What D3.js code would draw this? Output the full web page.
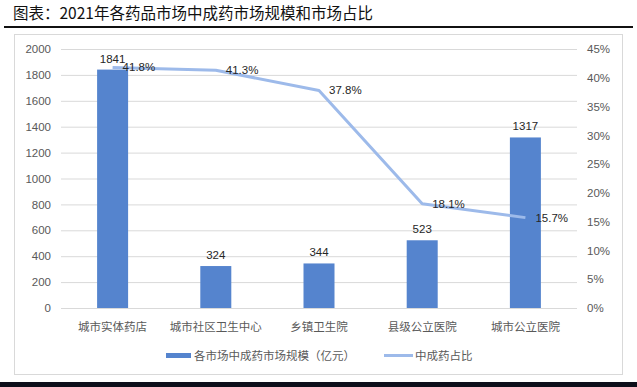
<!DOCTYPE html>
<html>
<head>
<meta charset="utf-8">
<script src="https://cdn.jsdelivr.net/npm/d3@7"></script>
<style>
  body { margin: 0; background: #fff; }
  svg { display: block; font-family: "Liberation Sans", Arial, "Noto Sans CJK SC", sans-serif; }
</style>
</head>
<body>
<svg id="chart" width="637" height="387"></svg>
<script>
const categories = ["城市实体药店", "城市社区卫生中心", "乡镇卫生院", "县级公立医院", "城市公立医院"];
const marketSize = [1841, 324, 344, 523, 1317];
const sharePct = [41.8, 41.3, 37.8, 18.1, 15.7];
const leftTicks = [0, 200, 400, 600, 800, 1000, 1200, 1400, 1600, 1800, 2000];
const rightTicks = [0, 5, 10, 15, 20, 25, 30, 35, 40, 45];

const svg = d3.select("#chart");
const margin = { top: 49, right: 60, bottom: 79, left: 61 };
const W = 637, H = 387;
const x0 = margin.left, x1 = W - margin.right, yTop = margin.top, yBot = H - margin.bottom;

const barColor = "#5584ce", lineColor = "#9dbaea", textColor = "#595959";

// title
svg.append("text")
  .attr("x", 13).attr("y", 19)
  .attr("font-family", "'Noto Sans CJK SC', sans-serif")
  .attr("font-size", 15.5).attr("font-weight", 400)
  .attr("fill", "#111")
  .text("图表：2021年各药品市场中成药市场规模和市场占比");
svg.append("line")
  .attr("x1", 4).attr("x2", 633).attr("y1", 27).attr("y2", 27)
  .attr("stroke", "#111").attr("stroke-width", 2);

// chart frame
svg.append("rect")
  .attr("x", 14.5).attr("y", 34.5).attr("width", 608).attr("height", 340)
  .attr("fill", "none").attr("stroke", "#d9d9d9");
svg.append("rect")
  .attr("x", 0).attr("y", 382).attr("width", W).attr("height", 5)
  .attr("fill", "#0d0f1a");

const x = d3.scaleBand().domain(categories).range([x0, x1]).paddingInner(0).paddingOuter(0);
const yL = d3.scaleLinear().domain([0, 2000]).range([yBot, yTop]);
const yR = d3.scaleLinear().domain([0, 45]).range([yBot, yTop]);

// gridlines
svg.append("g").selectAll("line").data(leftTicks).enter().append("line")
  .attr("x1", x0).attr("x2", x1)
  .attr("y1", d => yL(d) + 0.5).attr("y2", d => yL(d) + 0.5)
  .attr("stroke", "#d9d9d9").attr("stroke-width", 1);

// left axis
const axL = svg.append("g").attr("transform", `translate(${x0 - 10},0)`)
  .call(d3.axisLeft(yL).tickValues(leftTicks).tickSize(0).tickPadding(0).tickFormat(d3.format("d")));
axL.select(".domain").remove();
axL.selectAll("text").attr("fill", textColor).attr("font-size", 11.5);

// right axis
const axR = svg.append("g").attr("transform", `translate(${x1 + 10},0)`)
  .call(d3.axisRight(yR).tickValues(rightTicks).tickSize(0).tickPadding(0).tickFormat(d => d + "%"));
axR.select(".domain").remove();
axR.selectAll("text").attr("fill", textColor).attr("font-size", 11.5);

// category labels
svg.append("g").selectAll("text").data(categories).enter().append("text")
  .attr("x", d => x(d) + x.bandwidth() / 2).attr("y", yBot + 23)
  .attr("text-anchor", "middle").attr("fill", textColor)
  .attr("font-family", "'Noto Sans CJK SC', sans-serif").attr("font-size", 11.5)
  .text(d => d);

// bars
const bw = 31;
svg.append("g").selectAll("rect").data(marketSize).enter().append("rect")
  .attr("x", (d, i) => x(categories[i]) + x.bandwidth() / 2 - bw / 2)
  .attr("y", d => yL(d)).attr("width", bw).attr("height", d => yBot - yL(d))
  .attr("fill", barColor);

svg.append("g").selectAll("text").data(marketSize).enter().append("text")
  .attr("x", (d, i) => x(categories[i]) + x.bandwidth() / 2)
  .attr("y", d => yL(d) - 7)
  .attr("text-anchor", "middle").attr("fill", "#262626").attr("font-size", 11.5)
  .text(d => d);

// line
const line = d3.line()
  .x((d, i) => x(categories[i]) + x.bandwidth() / 2)
  .y(d => yR(d));
svg.append("path").datum(sharePct)
  .attr("d", line).attr("fill", "none")
  .attr("stroke", lineColor).attr("stroke-width", 3).attr("stroke-linejoin", "round");

svg.append("g").selectAll("text").data(sharePct).enter().append("text")
  .attr("x", (d, i) => x(categories[i]) + x.bandwidth() / 2 + 10)
  .attr("y", d => yR(d) + 4)
  .attr("fill", "#262626").attr("font-size", 11.5)
  .text(d => d.toFixed(1) + "%");

// legend
const lg = svg.append("g").attr("font-family", "'Noto Sans CJK SC', sans-serif").attr("font-size", 11.5).attr("fill", textColor);
lg.append("rect").attr("x", 166).attr("y", 353).attr("width", 25).attr("height", 5).attr("fill", barColor);
lg.append("text").attr("x", 194).attr("y", 360).attr("fill", textColor).text("各市场中成药市场规模（亿元）");
lg.append("line").attr("x1", 384).attr("x2", 413).attr("y1", 355.5).attr("y2", 355.5)
  .attr("stroke", lineColor).attr("stroke-width", 3);
lg.append("text").attr("x", 415).attr("y", 360).attr("fill", textColor).text("中成药占比");
</script>
</body>
</html>
